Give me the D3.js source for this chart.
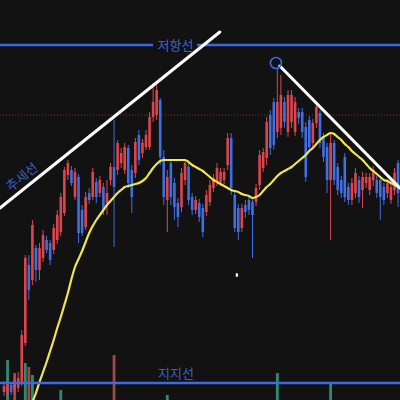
<!DOCTYPE html>
<html><head><meta charset="utf-8">
<script src="https://cdn.jsdelivr.net/npm/d3@7"></script>
<style>html,body{margin:0;padding:0;background:#121212;}svg{display:block;}</style>
</head><body>
<svg id="chart" width="400" height="400"></svg>
<script>
// OHLC in price units
const opens  = [8,6,15,10,12,18,57,135,120,152,130,142,160,157,150,160,168,187,225,230,203,223,190,173,207,203,218,207,213,197,220,233,230,237,230,252,230,227,265,247,253,253,283,285,300,243,200,237,217,197,193,220,233,203,190,197,192,188,198,212,218,218,220,235,262,205,192,172,195,200,198,198,215,232,242,285,298,268,272,298,268,278,268,288,288,273,280,257,277,287,263,253,220,257,233,220,243,213,200,207,220,210,217,210,220,220,220,213,207,200,210,237,203,213];
const highs  = [19,22,18,25,28,70,145,145,180,155,157,170,164,160,176,190,207,233,240,234,232,226,195,208,212,232,222,224,217,220,237,280,260,252,257,255,235,262,270,261,270,288,317,315,302,250,230,240,222,202,232,240,237,207,204,201,196,210,220,226,237,232,232,267,267,210,196,196,200,204,202,216,250,252,283,290,302,332,325,303,310,310,303,292,292,278,284,281,297,290,267,257,267,260,237,224,247,217,222,232,224,228,227,227,234,224,224,217,221,218,232,240,217,217];
const lows   = [4,3,5,6,8,14,54,100,115,118,120,138,147,135,146,156,164,184,220,214,200,157,164,170,196,200,197,203,185,185,215,153,225,232,226,212,187,222,235,242,250,250,278,280,235,195,168,195,180,173,188,215,195,185,186,178,163,184,194,208,214,214,216,230,205,168,160,168,182,185,142,194,210,228,235,245,250,262,265,272,263,272,264,276,262,218,248,252,272,252,238,207,160,215,205,202,198,195,195,202,197,192,212,205,214,202,180,195,202,196,205,193,198,195];
const closes = [14,17,8,20,22,65,142,110,175,130,152,165,150,140,172,185,203,230,237,217,228,167,167,203,200,228,203,220,190,207,233,213,257,247,253,217,203,258,240,257,265,283,298,310,243,203,223,203,193,183,227,237,200,190,200,183,168,205,215,222,232,228,228,262,212,172,168,192,188,190,185,212,245,248,278,252,255,298,305,278,305,305,298,282,268,223,253,277,293,257,243,220,257,220,210,207,203,200,217,227,203,223,223,223,230,207,203,200,217,213,227,207,213,200];
// moving average (yellow), null where not drawn
const movingAvg = [null,null,null,null,null,null,null,null,-2,
  7,18,28,38,49,60,72,83,95,107,
  121,133,141,149,158,167,174,180,185,190,
  195,199,203,207,210,213,214,215,216,217,
  219,222,227,232,236,239,240,240,240,240,
  240,240,240,238,235,233,231,229,226,223,
  220,218,216,214,212,210,209,208,206,205,
  204,202,203,205,209,213,216,220,224,227,
  229,231,233,236,239,242,245,249,252,256,
  260,263,265,267,266,263,260,256,253,249,
  246,243,240,236,232,229,226,223,220,219,
  217,215,213,211,209];
// volume bars (index, volume, up?)
const volumeBars = [
  {i:1,v:40,up:true},{i:3,v:27,up:false},{i:6,v:37,up:true},{i:7,v:33,up:false},
  {i:8,v:25,up:true},{i:16,v:10,up:true},{i:31,v:45,up:false},{i:46,v:5,up:true},
  {i:77,v:27,up:true},{i:92,v:16,up:true}
];
// annotation levels / labels
const resistanceLevel = 355, supportLevel = 17, dottedLevel = 285;
const resistanceLabel = "저항선", supportLabel = "지지선", trendLabel = "추세선";
const trendUp   = [{i:-1.13,p:192},{i:60.8,p:368}];
const trendDown = [{i:77.7,p:334},{i:111.5,p:212}];
const peakMark  = {i:76.6, p:337};
const markerDot = {i:65.6, p:125};

const W = 400, H = 400;
const svg = d3.select("#chart");
svg.append("rect").attr("width",W).attr("height",H).attr("fill","#121212");
const n = opens.length;
const x = d3.scaleLinear().domain([0, n-1]).range([4, 4 + 3.55*(n-1)]);
const y = d3.scaleLinear().domain([0, 400]).range([400, 0]);
const vy = d3.scaleLinear().domain([0, 100]).range([0, 100]);

const RED = "#dd454c", BLUE = "#3f6fe2";

// volume
svg.append("g").selectAll("rect").data(volumeBars).join("rect")
  .attr("x", d => x(d.i) - 1.4).attr("width", 2.8)
  .attr("y", d => H - vy(d.v)).attr("height", d => vy(d.v))
  .attr("fill", d => d.up ? "#2f8a72" : "#9c4a47");

// dotted level
svg.append("line").attr("x1",0).attr("x2",W).attr("y1",y(dottedLevel)).attr("y2",y(dottedLevel))
  .attr("stroke","#b03a3a").attr("stroke-width",0.8).attr("stroke-dasharray","1,2");

// candles
const data = d3.range(n).map(i => ({i, o:opens[i], h:highs[i], l:lows[i], c:closes[i]}));
const cg = svg.append("g");
cg.selectAll("line").data(data).join("line")
  .attr("x1", d => x(d.i)).attr("x2", d => x(d.i))
  .attr("y1", d => y(d.h)).attr("y2", d => y(d.l))
  .attr("stroke", d => d.c >= d.o ? RED : BLUE).attr("stroke-width", 1);
cg.selectAll("rect").data(data).join("rect")
  .attr("x", d => x(d.i) - 1.3).attr("width", 2.6)
  .attr("y", d => y(Math.max(d.o, d.c)))
  .attr("height", d => Math.max(1, Math.abs(y(d.o) - y(d.c))))
  .attr("fill", d => d.c >= d.o ? RED : BLUE);

// moving average
const line = d3.line().defined(d => d.v !== null).x(d => x(d.i)).y(d => y(d.v)).curve(d3.curveMonotoneX);
svg.append("path").datum(movingAvg.map((v,i)=>({i,v})))
  .attr("d", line).attr("fill","none").attr("stroke","#f1e64a").attr("stroke-width",2.2);

// support & resistance
const LB = "#3a6ae6";
svg.append("line").attr("x1",0).attr("x2",153).attr("y1",y(resistanceLevel)).attr("y2",y(resistanceLevel))
  .attr("stroke",LB).attr("stroke-width",2.6);
svg.append("line").attr("x1",197).attr("x2",W).attr("y1",y(resistanceLevel)).attr("y2",y(resistanceLevel))
  .attr("stroke",LB).attr("stroke-width",2.6);
svg.append("text").attr("x",175.5).attr("y",y(resistanceLevel)+4.5).attr("text-anchor","middle")
  .attr("font-family","'Noto Sans CJK KR'").attr("font-size",13).attr("fill","#3e63c9").text(resistanceLabel);
svg.append("line").attr("x1",0).attr("x2",W).attr("y1",y(supportLevel)).attr("y2",y(supportLevel))
  .attr("stroke",LB).attr("stroke-width",2.6);
svg.append("text").attr("x",176).attr("y",y(supportLevel)-5).attr("text-anchor","middle")
  .attr("font-family","'Noto Sans CJK KR'").attr("font-size",13).attr("fill","#3e5fc4").text(supportLabel);

// trend lines
svg.append("line").attr("x1",x(trendUp[0].i)).attr("y1",y(trendUp[0].p)).attr("x2",x(trendUp[1].i)).attr("y2",y(trendUp[1].p))
  .attr("stroke","#ffffff").attr("stroke-width",3).attr("stroke-linecap","round");
svg.append("line").attr("x1",x(trendDown[0].i)).attr("y1",y(trendDown[0].p)).attr("x2",x(trendDown[1].i)).attr("y2",y(trendDown[1].p))
  .attr("stroke","#ffffff").attr("stroke-width",3).attr("stroke-linecap","round");
const ang = Math.atan2(y(trendUp[1].p)-y(trendUp[0].p), x(trendUp[1].i)-x(trendUp[0].i))*180/Math.PI;
svg.append("text").attr("transform",`translate(22,177) rotate(${ang})`).attr("text-anchor","middle")
  .attr("dy","0.35em").attr("font-family","'Noto Sans CJK KR'").attr("font-size",13).attr("fill","#3e63c9").text(trendLabel);

// peak circle
svg.append("circle").attr("cx",x(peakMark.i)).attr("cy",y(peakMark.p)).attr("r",5.5)
  .attr("fill","none").attr("stroke",LB).attr("stroke-width",1.6);
// small white dot
svg.append("ellipse").attr("cx",x(markerDot.i)).attr("cy",y(markerDot.p)).attr("rx",1.3).attr("ry",2)
  .attr("fill","#ffffff");
</script>
</body></html>
